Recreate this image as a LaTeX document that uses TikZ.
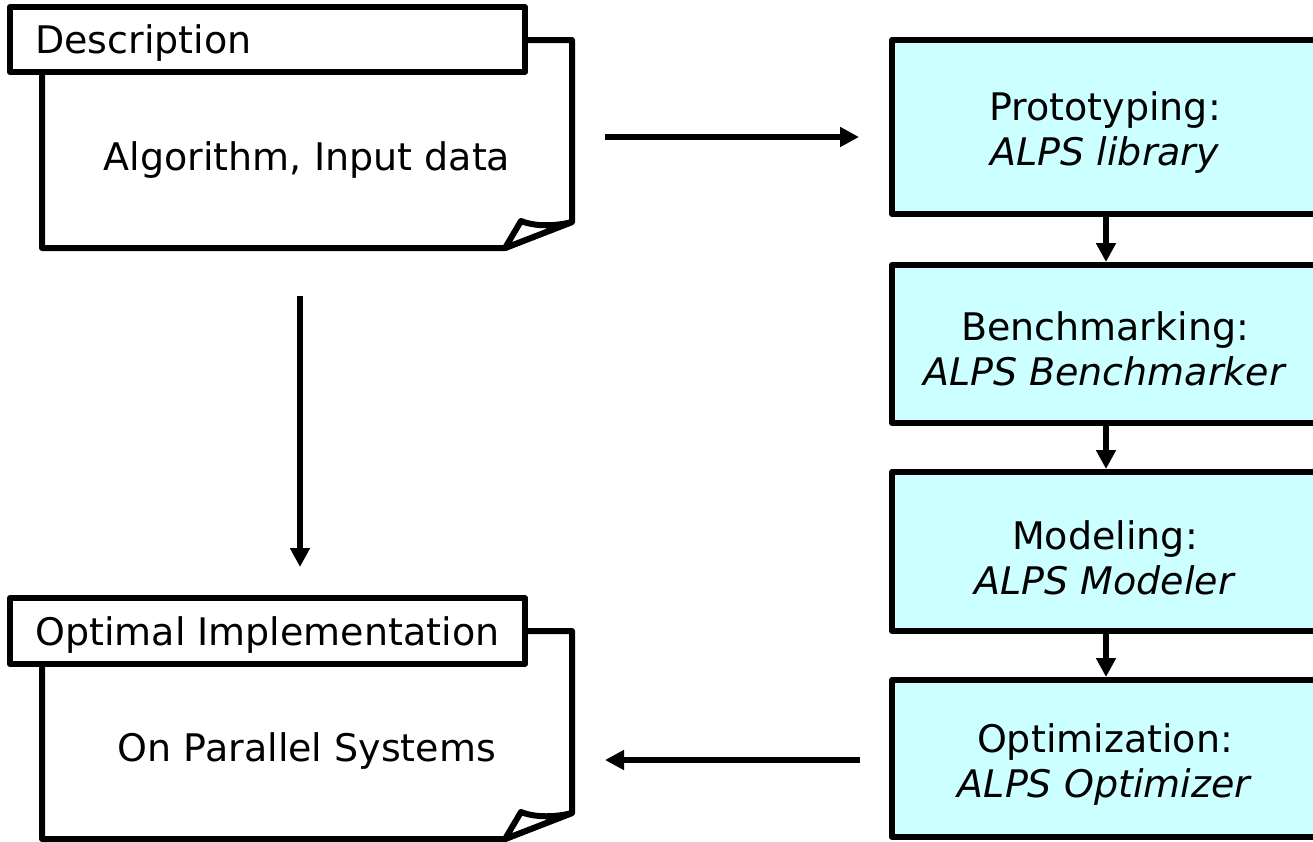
\documentclass[tikz,border=0pt]{standalone}
\usepackage{fontspec}
\setmainfont{DejaVu Sans}
\usetikzlibrary{arrows.meta}
\definecolor{stagefill}{RGB}{204,255,255}
\begin{document}
\begin{tikzpicture}[x=1pt,y=-1pt,
  docline/.style={line width=6pt, line join=round},
  lbl/.style={inner sep=0pt, font=\fontsize{38}{45}\selectfont},
  stage/.style={draw, line width=6pt, line join=round, fill=stagefill,
    minimum width=428pt, inner sep=0pt},
  stagetext/.style={align=center, inner sep=0pt, font=\fontsize{38}{45}\selectfont},
  arr/.style={line width=5.5pt, -{Triangle[length=19pt,width=19pt]}}]
\useasboundingbox (0,0) rectangle (1313,841);
\fill[white] (0,0) rectangle (1313,841);
% Description document
\draw[docline] (42,72) -- (42,248) -- (505,248) -- (572,222) -- (572,40) -- (525,40);
\draw[docline, fill=white] (505,248) -- (521,221) .. controls (536,227) and (556,226) .. (572,222) -- cycle;
\draw[docline, fill=white] (10,7) rectangle (525,72);
\node[lbl, anchor=base west] (desch) at (35,53) {Description};
\node[lbl] (desct) at (307,160) {Algorithm, Input data};
% Optimal implementation document
\begin{scope}[shift={(0,591)}]
\draw[docline] (42,72) -- (42,248) -- (505,248) -- (572,222) -- (572,40) -- (525,40);
\draw[docline, fill=white] (505,248) -- (521,221) .. controls (536,227) and (556,226) .. (572,222) -- cycle;
\draw[docline, fill=white] (10,7) rectangle (525,73);
\node[lbl, anchor=base west] (opth) at (35,54) {Optimal Implementation};
\node[lbl] (optt) at (307,160) {On Parallel Systems};
\end{scope}
% Stages
\node[stage, minimum height=174pt] (proto) at (1106,127) {};
\node[stage, minimum height=158pt] (bench) at (1106,344) {};
\node[stage, minimum height=159pt] (model) at (1106,551.5) {};
\node[stage, minimum height=157pt] (optim) at (1106,758.5) {};
\node[stagetext] (protot) at (1105,133) {Prototyping:\\\textit{ALPS library}};
\node[stagetext] (bencht) at (1105,349) {Benchmarking:\\\textit{ALPS Benchmarker}};
\node[stagetext] (modelt) at (1105,558) {Modeling:\\\textit{ALPS Modeler}};
\node[stagetext] (optimt) at (1105,765) {Optimization:\\\textit{ALPS Optimizer}};
% Connectors
\draw[arr] (proto) -- (bench);
\draw[arr] (bench) -- (model);
\draw[arr] (model) -- (optim);
\coordinate (d2p0) at (605,137);
\coordinate (d2p1) at (859,137);
\draw[arr] (d2p0) -- (d2p1);
\coordinate (d2o0) at (300,296);
\coordinate (d2o1) at (300,567);
\draw[arr] (d2o0) -- (d2o1);
\coordinate (o2i0) at (860,760);
\coordinate (o2i1) at (605,760);
\draw[arr] (o2i0) -- (o2i1);
\end{tikzpicture}
\end{document}
